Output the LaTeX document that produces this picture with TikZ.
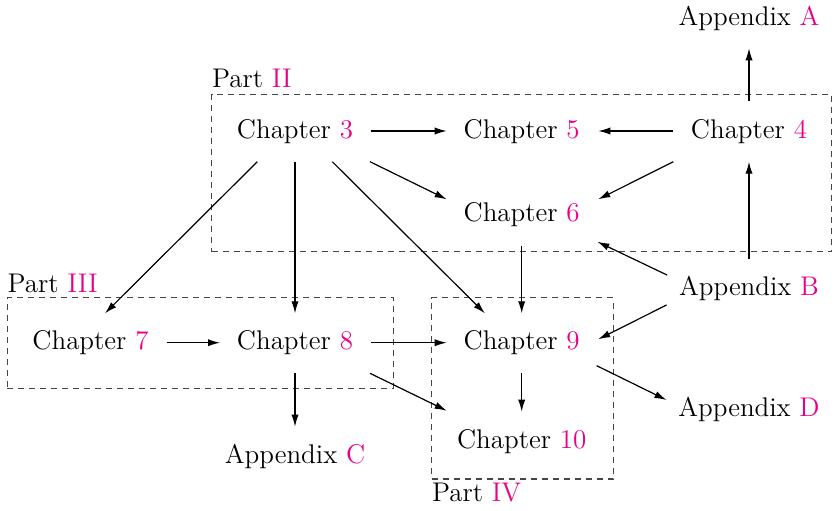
\documentclass[tikz,border=0pt]{standalone}
\usepackage{fontspec}
\usetikzlibrary{arrows.meta,fit}
\definecolor{partnum}{RGB}{233,0,137}
\definecolor{boxgray}{RGB}{70,70,70}
\newcommand{\nm}[1]{\textcolor{partnum}{#1}}
\tikzset{
  lbl/.style={anchor=base, inner sep=0pt, font=\fontsize{13.5}{15}\selectfont},
  partlbl/.style={anchor=base west, inner sep=0pt, font=\fontsize{13.5}{15}\selectfont},
  arr/.style={line width=0.6pt, -{Latex[length=6pt,width=3.6pt]}},
  partbox/.style={draw=boxgray, dash pattern=on 3pt off 2.5pt, line width=0.6pt, inner sep=0pt}
}
\begin{document}
\begin{tikzpicture}[x=0.5pt,y=-0.5pt]
\useasboundingbox (0,0) rectangle (835,510);

% part boxes
\coordinate (p2a) at (211.7,94.3);  \coordinate (p2b) at (831.7,251.7);
\coordinate (p3a) at (7.3,297.7);   \coordinate (p3b) at (393.3,388.3);
\coordinate (p4a) at (431.7,297.7); \coordinate (p4b) at (613.3,479);
\node[partbox, fit=(p2a)(p2b)] (partII) {};
\node[partbox, fit=(p3a)(p3b)] (partIII) {};
\node[partbox, fit=(p4a)(p4b)] (partIV) {};
\node[partlbl] (lII) at (211.7,87.7) {Part \nm{II}};
\node[partlbl] (lIII) at (7.3,292.3) {Part \nm{III}};
\node[partlbl] (lIV) at (431.7,501.7) {Part \nm{IV}};

% nodes
\node[lbl] (ch3) at (295,138.5) {Chapter \nm{3}};
\node[lbl] (ch5) at (521.7,138.5) {Chapter \nm{5}};
\node[lbl] (ch4) at (749,138.5) {Chapter \nm{4}};
\node[lbl] (ch6) at (521.7,221) {Chapter \nm{6}};
\node[lbl] (appA) at (749,25) {Appendix \nm{A}};
\node[lbl] (appB) at (749,295.7) {Appendix \nm{B}};
\node[lbl] (ch7) at (90.5,349.3) {Chapter \nm{7}};
\node[lbl] (ch8) at (295,349.3) {Chapter \nm{8}};
\node[lbl] (ch9) at (521.7,349.3) {Chapter \nm{9}};
\node[lbl] (ch10) at (521.7,448.3) {Chapter \nm{10}};
\node[lbl] (appC) at (295,463.3) {Appendix \nm{C}};
\node[lbl] (appD) at (749,416) {Appendix \nm{D}};

% connectors
\draw[arr] ([shift={(75.7,-7.5)}]ch3.base) -- ([shift={(-75,-7.5)}]ch5.base);
\draw[arr] ([shift={(-75.7,-7.5)}]ch4.base) -- ([shift={(76.6,-7.5)}]ch5.base);
\draw[arr] ([shift={(75,23.2)}]ch3.base) -- ([shift={(-75,-21.7)}]ch6.base);
\draw[arr] ([shift={(-75.7,23.2)}]ch4.base) -- ([shift={(76.6,-21.7)}]ch6.base);
\draw[arr] ([shift={(0,-37.8)}]ch4.base) -- ([shift={(0,23.3)}]appA.base);
\draw[arr] ([shift={(0,-36.4)}]appB.base) -- ([shift={(0,23.2)}]ch4.base);
\draw[arr] ([shift={(-82,-20.7)}]appB.base) -- ([shift={(75.6,20.7)}]ch6.base);
\draw[arr] ([shift={(-82.5,9.3)}]appB.base) -- ([shift={(76.5,-10)}]ch9.base);
\draw[arr] ([shift={(-37.7,23.2)}]ch3.base) -- ([shift={(14.5,-36)}]ch7.base);
\draw[arr] ([shift={(0,23.2)}]ch3.base) -- ([shift={(0,-36)}]ch8.base);
\draw[arr] ([shift={(37.3,23.2)}]ch3.base) -- ([shift={(-36.8,-36)}]ch9.base);
\draw[arr] ([shift={(0,24.5)}]ch6.base) -- ([shift={(0,-36)}]ch9.base);
\draw[arr] ([shift={(76.2,-6.6)}]ch7.base) -- ([shift={(-75,-6.6)}]ch8.base);
\draw[arr] ([shift={(76,-6.6)}]ch8.base) -- ([shift={(-75,-6.6)}]ch9.base);
\draw[arr] ([shift={(75,24)}]ch8.base) -- ([shift={(-75,-37.6)}]ch10.base);
\draw[arr] ([shift={(0,24)}]ch8.base) -- ([shift={(0,-36.6)}]appC.base);
\draw[arr] ([shift={(0,24)}]ch9.base) -- ([shift={(0,-36.6)}]ch10.base);
\draw[arr] ([shift={(75,16.4)}]ch9.base) -- ([shift={(-82.5,-16)}]appD.base);
\end{tikzpicture}
\end{document}
